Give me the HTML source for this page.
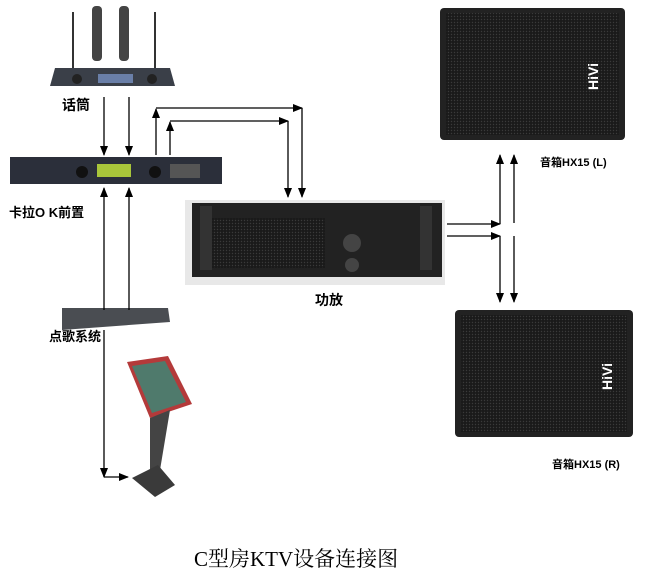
<!DOCTYPE html>
<html><head><meta charset="utf-8"><style>
body{margin:0;background:#fff;width:650px;height:575px;overflow:hidden;position:relative;font-family:"Liberation Sans","Noto Sans CJK SC",sans-serif}
.t{position:absolute;font-weight:bold;font-size:13px;color:#000;white-space:nowrap}
</style></head><body>
<svg width="650" height="575" style="position:absolute;left:0;top:0">
<defs>
<marker id="a" markerWidth="10" markerHeight="8" refX="9" refY="4" orient="auto" markerUnits="userSpaceOnUse"><path d="M0,0L10,4L0,8z" fill="#000"/></marker>
<pattern id="g" width="3" height="3" patternUnits="userSpaceOnUse"><rect width="3" height="3" fill="#1a1a1a"/><circle cx="1.5" cy="1.5" r="0.7" fill="#3a3a3a"/></pattern>
</defs>
<!-- mic receiver -->
<line x1="73" y1="12" x2="73" y2="70" stroke="#333" stroke-width="2"/>
<line x1="155" y1="12" x2="155" y2="70" stroke="#333" stroke-width="2"/>
<rect x="92" y="6" width="10" height="55" rx="4" fill="#444"/>
<rect x="119" y="6" width="10" height="55" rx="4" fill="#444"/>
<path d="M55,68L170,68L175,86L50,86z" fill="#3a3f48"/>
<rect x="98" y="74" width="35" height="9" fill="#6a7fa8"/>
<circle cx="77" cy="79" r="5" fill="#222"/><circle cx="152" cy="79" r="5" fill="#222"/>
<!-- karaoke -->
<rect x="10" y="157" width="212" height="27" fill="#2b2f3a"/>
<rect x="97" y="164" width="34" height="13" fill="#a9c63a"/>
<circle cx="82" cy="172" r="6" fill="#111"/><circle cx="155" cy="172" r="6" fill="#111"/>
<rect x="170" y="164" width="30" height="14" fill="#555"/>
<!-- song system -->
<path d="M62,308L168,308L170,322L62,330z" fill="#4a4d52"/>
<!-- kiosk -->
<path d="M127,362L168,356L192,404L150,418z" fill="#b43a3a"/>
<path d="M132,366L165,361L186,402L152,413z" fill="#4f7a6c"/>
<path d="M150,418L170,410Q165,440 160,470L150,470Q150,440 150,418z" fill="#444"/>
<path d="M132,478L158,465L175,485L155,497z" fill="#3a3a3a"/>
<!-- amp -->
<rect x="185" y="200" width="260" height="85" fill="#e8e8e8"/>
<rect x="192" y="203" width="250" height="74" fill="#222"/>
<rect x="205" y="218" width="120" height="50" fill="url(#g)"/>
<circle cx="352" cy="243" r="9" fill="#444"/><circle cx="352" cy="265" r="7" fill="#444"/>
<rect x="200" y="206" width="12" height="64" fill="#333"/><rect x="420" y="206" width="12" height="64" fill="#333"/>
<!-- speakers -->
<rect x="440" y="8" width="185" height="132" rx="4" fill="#222"/>
<rect x="446" y="13" width="173" height="122" fill="url(#g)"/>
<text x="598" y="90" fill="#fff" font-size="14" font-weight="bold" transform="rotate(-90 598 90)" font-family="Liberation Sans">HiVi</text>
<rect x="455" y="310" width="178" height="127" rx="4" fill="#222"/>
<rect x="461" y="315" width="166" height="117" fill="url(#g)"/>
<text x="612" y="390" fill="#fff" font-size="14" font-weight="bold" transform="rotate(-90 612 390)" font-family="Liberation Sans">HiVi</text>
<g stroke="#000" stroke-width="1.3" fill="none">
<line x1="104" y1="97" x2="104" y2="155" marker-end="url(#a)"/>
<line x1="129" y1="97" x2="129" y2="155" marker-end="url(#a)"/>
<polyline points="156,155 156,109" marker-end="url(#a)"/>
<polyline points="156,108 302,108" marker-end="url(#a)"/>
<polyline points="302,108 302,197" marker-end="url(#a)"/>
<polyline points="170,155 170,122" marker-end="url(#a)"/>
<polyline points="170,121 288,121" marker-end="url(#a)"/>
<polyline points="288,121 288,197" marker-end="url(#a)"/>
<line x1="104" y1="310" x2="104" y2="188" marker-end="url(#a)"/>
<line x1="129" y1="310" x2="129" y2="188" marker-end="url(#a)"/>
<polyline points="104,330 104,477" marker-end="url(#a)"/>
<polyline points="104,477 128,477" marker-end="url(#a)"/>
<line x1="447" y1="224" x2="500" y2="224" marker-end="url(#a)"/>
<line x1="447" y1="236" x2="500" y2="236" marker-end="url(#a)"/>
<line x1="500" y1="224" x2="500" y2="155" marker-end="url(#a)"/>
<line x1="500" y1="236" x2="500" y2="302" marker-end="url(#a)"/>
<line x1="514" y1="223" x2="514" y2="155" marker-end="url(#a)"/>
<line x1="514" y1="236" x2="514" y2="302" marker-end="url(#a)"/>
</g>
</svg>
<div class="t" style="left:62px;top:95px;font-size:14px">话筒</div>
<div class="t" style="left:9px;top:202px">卡拉O K前置</div>
<div class="t" style="left:49px;top:326px">点歌系统</div>
<div class="t" style="left:315px;top:290px;font-size:14px">功放</div>
<div class="t" style="left:540px;top:154px;font-size:11px">音箱HX15 (L)</div>
<div class="t" style="left:552px;top:456px;font-size:11px">音箱HX15 (R)</div>
<div style="position:absolute;left:194px;top:543px;font-size:21px;font-family:'Liberation Serif','Noto Serif CJK SC',serif;white-space:nowrap">C型房KTV设备连接图</div>
</body></html>
